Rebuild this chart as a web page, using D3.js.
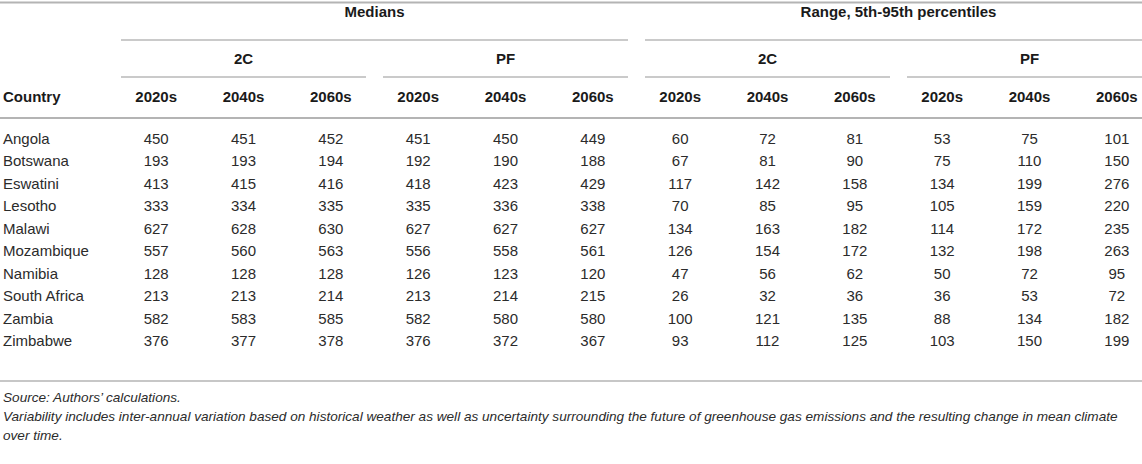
<!DOCTYPE html>
<html>
<head>
<meta charset="utf-8">
<script src="https://cdn.jsdelivr.net/npm/d3@7"></script>
<style>
  html, body { margin: 0; padding: 0; background: #fff; }
  svg { display: block; font-family: "Liberation Sans", Arial, Helvetica, sans-serif; }
</style>
</head>
<body>
<div id="table"></div>
<script>
// table values
const countries = ["Angola", "Botswana", "Eswatini", "Lesotho", "Malawi", "Mozambique",
  "Namibia", "South Africa", "Zambia", "Zimbabwe"];
const decades = ["2020s", "2040s", "2060s"];
const scenarios = ["2C", "PF"];
const stats = ["Medians", "Range, 5th-95th percentiles"];

const medians2C = [[450, 451, 452], [193, 193, 194], [413, 415, 416], [333, 334, 335], [627, 628, 630],
  [557, 560, 563], [128, 128, 128], [213, 213, 214], [582, 583, 585], [376, 377, 378]];
const mediansPF = [[451, 450, 449], [192, 190, 188], [418, 423, 429], [335, 336, 338], [627, 627, 627],
  [556, 558, 561], [126, 123, 120], [213, 214, 215], [582, 580, 580], [376, 372, 367]];
const range2C = [[60, 72, 81], [67, 81, 90], [117, 142, 158], [70, 85, 95], [134, 163, 182],
  [126, 154, 172], [47, 56, 62], [26, 32, 36], [100, 121, 135], [93, 112, 125]];
const rangePF = [[53, 75, 101], [75, 110, 150], [134, 199, 276], [105, 159, 220], [114, 172, 235],
  [132, 198, 263], [50, 72, 95], [36, 53, 72], [88, 134, 182], [103, 150, 199]];

const sourceNote = "Source: Authors\u2019 calculations.";
const noteLines = [
  "Variability includes inter-annual variation based on historical weather as well as uncertainty surrounding the future of greenhouse gas emissions and the resulting change in mean climate",
  "over time."
];

const width = 1142, height = 464;
const pad = 8.5;

const blocks = [medians2C, mediansPF, range2C, rangePF];

// one key per data column
const columns = [];
stats.forEach((s, si) => scenarios.forEach((sc, ci) => decades.forEach((d, di) => {
  columns.push({ key: `${s}|${sc}|${d}`, stat: s, scen: sc, decade: d, block: si * 2 + ci, di });
})));

const x = d3.scaleBand()
  .domain(columns.map(c => c.key))
  .range([112.5, 1160.5]);

const y = d3.scalePoint()
  .domain(countries)
  .range([143.5, 143.5 + 22.5 * (countries.length - 1)]);

const svg = d3.select("#table").append("svg")
  .attr("width", width)
  .attr("height", height);

function span(keys) {
  const first = x(keys[0]);
  const last = x(keys[keys.length - 1]) + x.bandwidth();
  return [first, last];
}

// rules
const rule = (x1, x2, yy, w, c) => svg.append("line")
  .attr("x1", x1).attr("x2", x2).attr("y1", yy).attr("y2", yy)
  .attr("stroke", c).attr("stroke-width", w);

rule(0, width, 2.5, 2, "#b4b4b4");
rule(0, width, 118, 2, "#b4b4b4");
rule(0, width, 381, 1.5, "#b4b4b4");

// top level header: stats
stats.forEach(s => {
  const [a, b] = span(columns.filter(c => c.stat === s).map(c => c.key));
  svg.append("text")
    .attr("x", (a + b) / 2).attr("y", 17)
    .attr("text-anchor", "middle")
    .attr("font-size", 15).attr("font-weight", "bold").attr("fill", "#1a1a1a")
    .text(s);
  rule(a + pad, b - pad, 40, 1.3, "#b9b9b9");
});

// second level: scenarios
stats.forEach(s => scenarios.forEach(sc => {
  const [a, b] = span(columns.filter(c => c.stat === s && c.scen === sc).map(c => c.key));
  svg.append("text")
    .attr("x", (a + b) / 2).attr("y", 63.5)
    .attr("text-anchor", "middle")
    .attr("font-size", 15).attr("font-weight", "bold").attr("fill", "#1a1a1a")
    .text(sc);
  rule(a + pad, b - pad, 77, 1.3, "#b9b9b9");
}));

// column headers
svg.append("text")
  .attr("x", 3).attr("y", 102)
  .attr("font-size", 15).attr("font-weight", "bold").attr("fill", "#1a1a1a")
  .text("Country");

svg.selectAll("text.col")
  .data(columns)
  .enter().append("text")
  .attr("class", "col")
  .attr("x", d => x(d.key) + x.bandwidth() / 2)
  .attr("y", 102)
  .attr("text-anchor", "middle")
  .attr("font-size", 15).attr("font-weight", "bold").attr("fill", "#1a1a1a")
  .text(d => d.decade);

// body
const rows = svg.selectAll("g.row")
  .data(countries)
  .enter().append("g")
  .attr("class", "row")
  .attr("transform", d => `translate(0,${y(d)})`);

rows.append("text")
  .attr("x", 3)
  .attr("font-size", 15).attr("fill", "#2b2b2b")
  .text(d => d);

rows.selectAll("text.val")
  .data((d, i) => columns.map(c => ({ c, v: blocks[c.block][i][c.di] })))
  .enter().append("text")
  .attr("class", "val")
  .attr("x", d => x(d.c.key) + x.bandwidth() / 2)
  .attr("text-anchor", "middle")
  .attr("font-size", 15).attr("fill", "#2b2b2b")
  .text(d => d.v);

// notes
svg.append("text")
  .attr("x", 3).attr("y", 402)
  .attr("font-size", 13.6).attr("font-style", "italic").attr("fill", "#2b2b2b")
  .text(sourceNote);

svg.selectAll("text.note")
  .data(noteLines)
  .enter().append("text")
  .attr("class", "note")
  .attr("x", 3)
  .attr("y", (d, i) => 421 + i * 18.5)
  .attr("font-size", 13.6).attr("font-style", "italic").attr("fill", "#2b2b2b")
  .text(d => d);
</script>
</body>
</html>
